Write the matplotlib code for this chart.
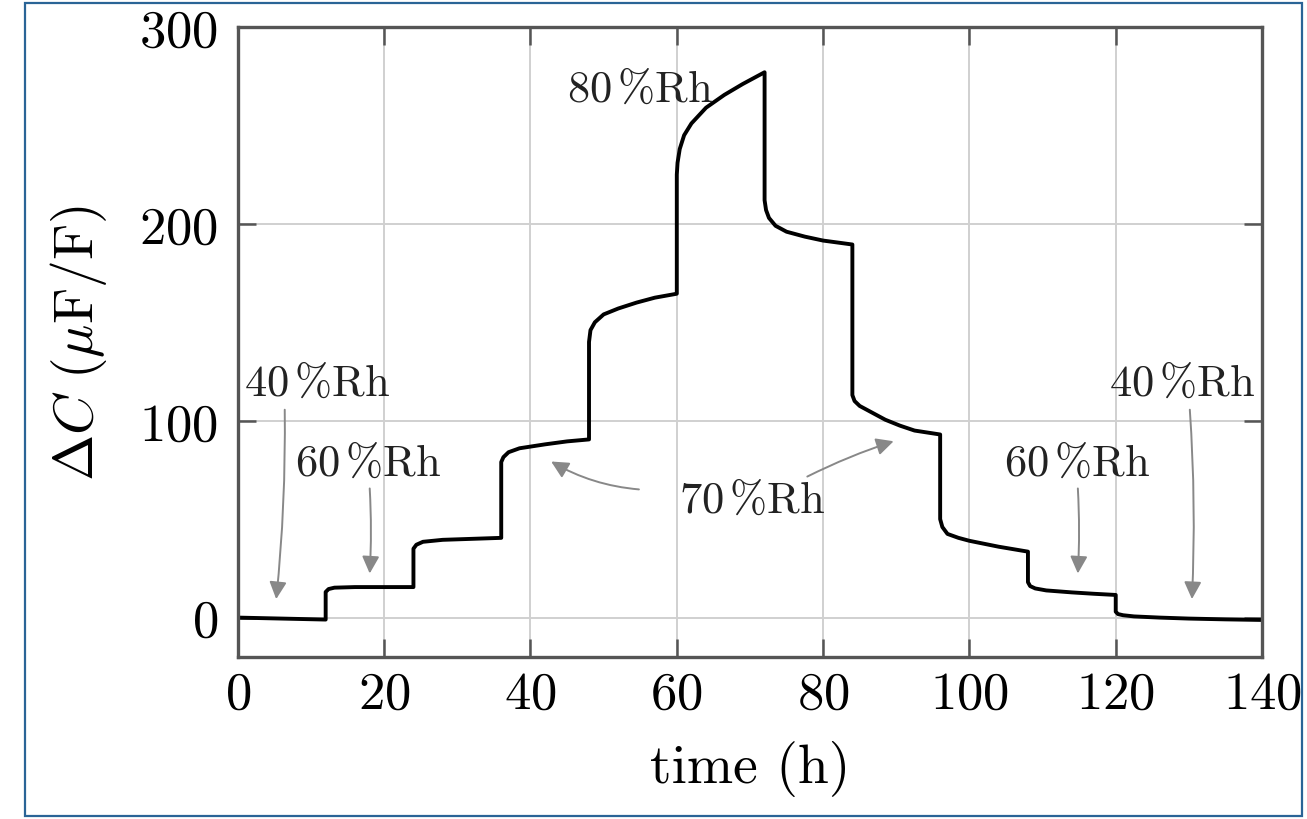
import matplotlib
matplotlib.use("Agg")
import matplotlib.pyplot as plt
from matplotlib.patches import Rectangle

plt.rcParams['font.family'] = ['cmr10', 'DejaVu Serif']
plt.rcParams['mathtext.fontset'] = 'cm'
plt.rcParams['axes.formatter.use_mathtext'] = True
plt.rcParams['axes.unicode_minus'] = False

# humidity steps (vertical jumps = repeated time)
t_h = [0, 6, 12,
       12, 12.4, 13.2, 16, 20, 24,
       24, 24.4, 25.3, 28, 32, 36,
       36, 36.3, 37, 38.5, 42, 45, 48,
       48, 48.2, 48.8, 50, 52, 54.5, 57, 60,
       60, 60.1, 60.4, 61, 62, 64, 66.5, 69, 72,
       72, 72.2, 72.6, 73.5, 75, 77.5, 80, 84,
       84, 84.3, 85, 86.5, 88.5, 90.5, 92.5, 96,
       96, 96.3, 97, 98.5, 100, 104, 108,
       108, 108.3, 109, 110.5, 114, 117, 120,
       120, 120.3, 121, 122.5, 126, 130, 135, 140]
dC = [0, -0.5, -1,
      13, 14.5, 15.2, 15.5, 15.5, 15.5,
      35, 37, 38.5, 39.5, 40, 40.5,
      79, 81.5, 84, 86, 88, 89.5, 90.5,
      140, 146, 150, 154, 157, 160, 162.5, 164.5,
      225, 231, 238, 245, 251, 259, 265.5, 271, 277,
      212, 207, 203, 199, 196, 193.5, 191.5, 189.5,
      113, 110, 107.5, 104.5, 100.5, 97.5, 95, 93,
      50, 46, 42.5, 40.5, 39, 36, 33.5,
      18, 16, 14.8, 13.8, 12.8, 12.1, 11.5,
      3, 1.8, 1.2, 0.6, 0, -0.5, -0.9, -1.2]

# labels: text, text position, arrow start, arrow tip
labels = ['40', '60', '80', '60', '40']
label_xy = [(10.8, 119), (17.8, 78), (55.0, 268), (114.8, 78), (129.1, 119)]
arrow_from = [(6.4, 107), (18.0, 67), None, (114.8, 67), (130.1, 107)]
arrow_to = [(5.2, 8), (18.0, 21), None, (114.8, 21), (130.4, 8)]
rh70_xy = (70.3, 59.5)
rh70_from = [(55.2, 65), (77.5, 71)]
rh70_to = [(42.5, 80), (90.0, 90)]

fig = plt.figure(figsize=(13.07, 8.2), dpi=100)
ax = fig.add_axes([0.182, 0.1976, 0.7836, 0.7683])

ax.plot(t_h, dC, color='black', lw=2.8, solid_joinstyle='round')

ax.set_xlim(0, 140)
ax.set_ylim(-20, 300)
ax.set_xticks(range(0, 141, 20))
ax.set_yticks([0, 100, 200, 300])
ax.grid(True, color='#d0d0d0', lw=1.4)
ax.set_axisbelow(True)
for s in ax.spines.values():
    s.set_color('#555555')
    s.set_linewidth(2.4)
ax.tick_params(direction='in', length=13, width=1.8, color='#555555',
               top=True, right=True, labelsize=38)
ax.tick_params(axis='x', pad=10)
ax.tick_params(axis='y', pad=14)

ax.set_xlabel('time (h)', fontsize=40, labelpad=16)
ax.set_ylabel(r'$\Delta C\ (\mathrm{\mu F/F})$', fontsize=40, labelpad=22)

grey = '#888888'
for lab, xy, a0, a1 in zip(labels, label_xy, arrow_from, arrow_to):
    ax.text(xy[0], xy[1], r'$\mathrm{%s\,\%%Rh}$' % lab, fontsize=32,
            ha='center', va='center', color='#222222')
    if a0 is not None:
        ax.annotate('', xy=a1, xytext=a0,
                    arrowprops=dict(arrowstyle='-|>', color=grey, lw=1.4,
                                    mutation_scale=26,
                                    connectionstyle='arc3,rad=-0.03'))

ax.text(rh70_xy[0], rh70_xy[1], r'$\mathrm{70\,\%Rh}$', fontsize=32,
        ha='center', va='center', color='#222222')
for a0, a1, rad in zip(rh70_from, rh70_to, [-0.12, -0.04]):
    ax.annotate('', xy=a1, xytext=a0,
                arrowprops=dict(arrowstyle='-|>', color=grey, lw=1.4,
                                mutation_scale=26,
                                connectionstyle='arc3,rad=%s' % rad))

# thin blue frame round the whole picture
fig.patches.append(Rectangle((25 / 1307, 3 / 820), 1277 / 1307, 813 / 820,
                             transform=fig.transFigure, fill=False,
                             edgecolor='#2a6496', lw=1.6))

fig.savefig('out.png', dpi=100)
